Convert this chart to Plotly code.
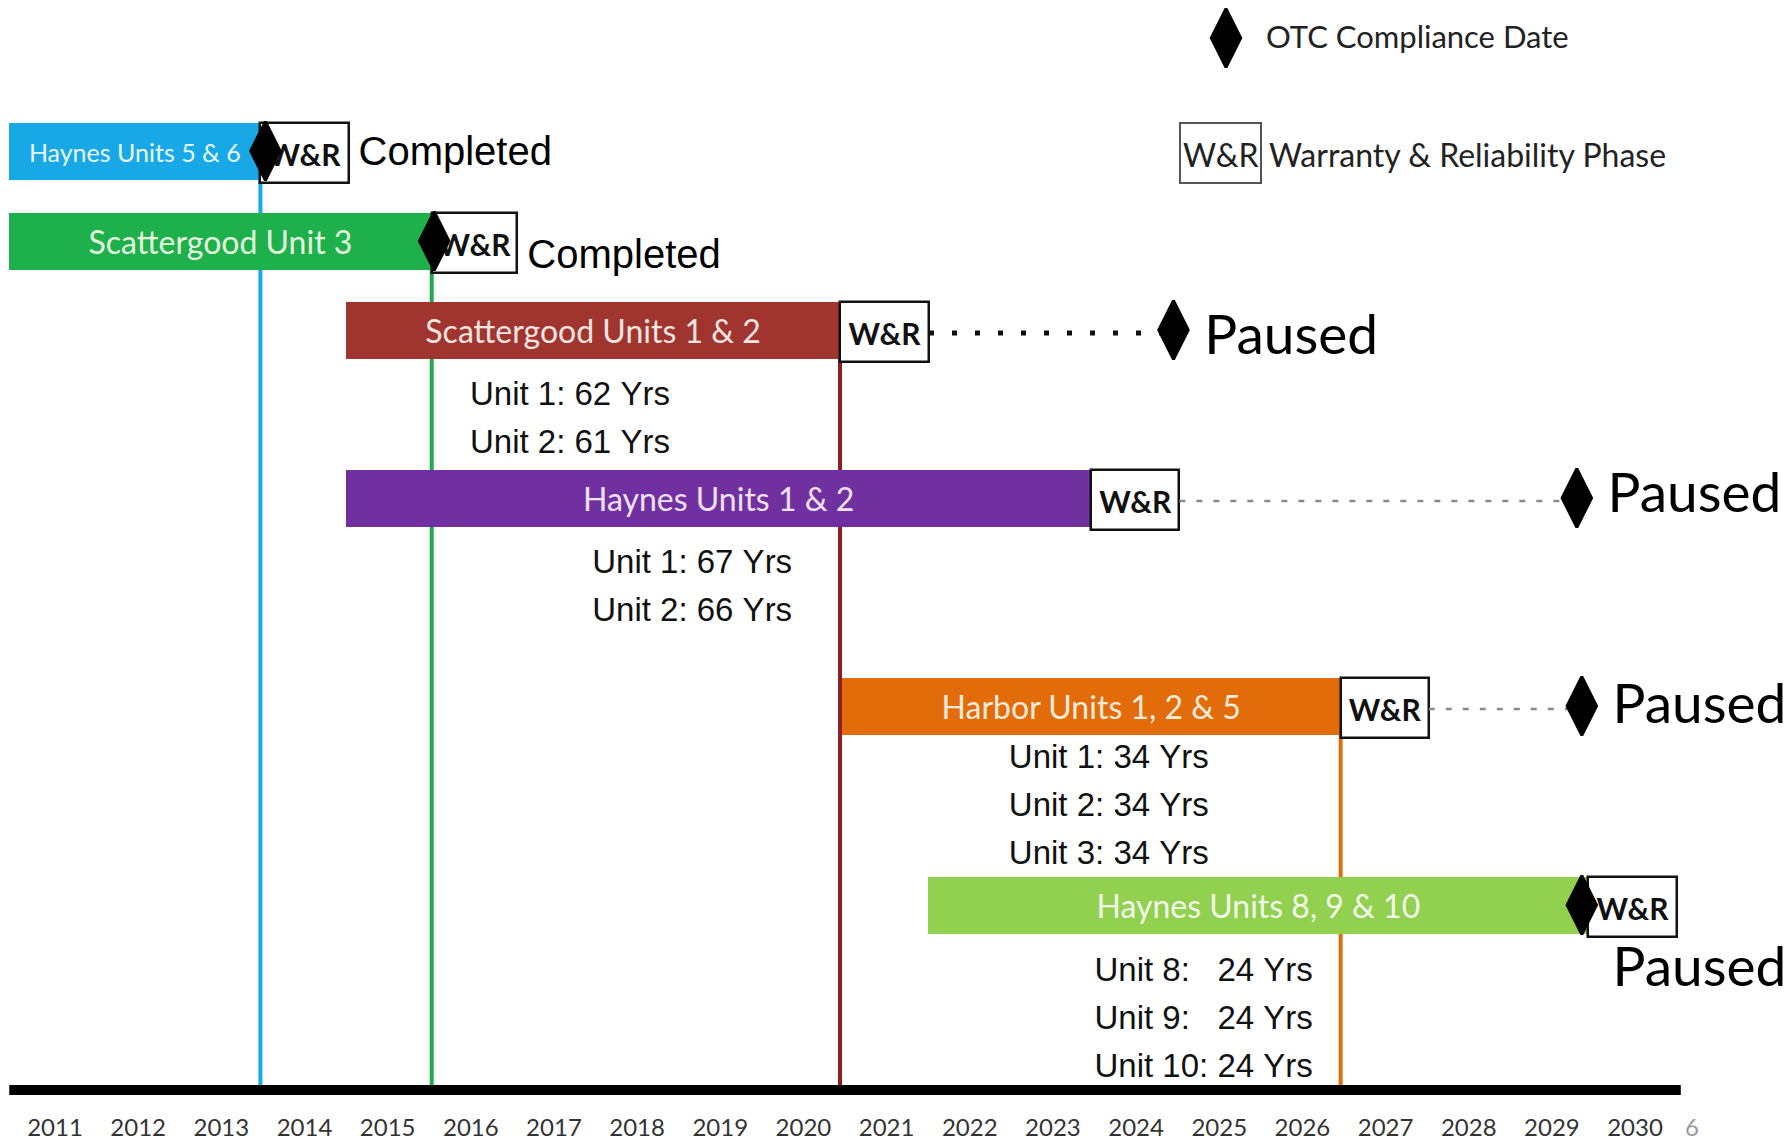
import plotly.graph_objects as go

# ---------------- data ----------------
projects = ["Haynes Units 5 & 6", "Scattergood Unit 3", "Scattergood Units 1 & 2",
            "Haynes Units 1 & 2", "Harbor Units 1, 2 & 5", "Haynes Units 8, 9 & 10"]
start = [2010.95, 2010.95, 2015.0, 2015.0, 2020.96, 2022.0]
finish = [2013.97, 2016.03, 2020.94, 2023.96, 2026.96, 2029.94]
wr_end = [2015.03, 2017.06, 2022.01, 2025.02, 2028.02, 2031.0]
otc_date = [2014.03, 2016.06, 2024.95, 2029.80, 2029.86, 2029.86]
status = ["Completed", "Completed", "Paused", "Paused", "Paused", "Paused"]

unit_names = [
    [],
    [],
    ["Unit 1:", "Unit 2:"],
    ["Unit 1:", "Unit 2:"],
    ["Unit 1:", "Unit 2:", "Unit 3:"],
    ["Unit 8:  ", "Unit 9:  ", "Unit 10:"],
]
unit_ages = [
    [],
    [],
    [62, 61],
    [67, 66],
    [34, 34, 34],
    [24, 24, 24],
]
years = list(range(2011, 2031))
axis_span = [2010.95, 2031.05]

# ---------------- styling / layout ----------------
W, H = 1792, 1144
B_MARGIN = 40
PLOT_H = H - B_MARGIN
PX0, PX_PER_YEAR = 55, 83.16


def px_to_year(px):
    return 2011.5 + (px - PX0) / PX_PER_YEAR


ARIAL = "Liberation Sans, Arial, sans-serif"
CALIBRI = "Lato, Carlito, Calibri, sans-serif"

bar_colors = ["#19A8E6", "#1DB04B", "#A03530", "#7030A0", "#E36C0A", "#92D050"]
label_colors = ["#E8F7FF", "#E3F8DF", "#F8E4E0", "#EFE2F7", "#FCEBDD", "#F2FAEA"]
label_sizes = [25, 32, 32, 32, 32, 32]
line_colors = ["#19A8E6", "#1DAA4B", "#8B1E1E", None, "#E36C0A", None]
row_y = [151, 241, 330, 498, 706, 905]
BAR_H, WR_H = 57, 60
AXIS_Y = 1090
TXT_DY = 5  # vertical nudge for scatter text baselines
connector = [None, None, ("#111111", 5, "5px,18px"), ("#8A8A8A", 2.5, "6px,11px"),
             ("#8A8A8A", 2.5, "6px,11px"), None]
status_dy = [-1, 12, 5, -5, -2, 62]
unit_text_x = [None, None, 2016.49, 2017.96, 2022.97, 2024.0]
unit_first_y = [None, None, 392, 560, 755, 968]
UNIT_DY = 48

fig = go.Figure()

# vertical completion lines (below bars)
shapes = []
for i, c in enumerate(line_colors):
    if c:
        shapes.append(dict(type="line", xref="x", yref="y", layer="below",
                           x0=finish[i], x1=finish[i],
                           y0=row_y[i] + BAR_H / 2, y1=AXIS_Y,
                           line=dict(color=c, width=4)))

# project bars
fig.add_trace(go.Bar(
    orientation="h", y=row_y, base=start,
    x=[f - s for s, f in zip(start, finish)],
    width=BAR_H, marker=dict(color=bar_colors, line=dict(width=0)),
    hoverinfo="skip", showlegend=False))

# W&R boxes
fig.add_trace(go.Bar(
    orientation="h", y=[r + 1.5 for r in row_y], base=finish,
    x=[w - f for f, w in zip(finish, wr_end)],
    width=WR_H, marker=dict(color="white", line=dict(color="#111111", width=2.5)),
    hoverinfo="skip", showlegend=False))

# W&R box texts
fig.add_trace(go.Scatter(
    x=[(f + w) / 2 for f, w in zip(finish, wr_end)], y=[r + 2 + TXT_DY for r in row_y],
    mode="text", text=["<b>W&R</b>"] * len(projects), textposition="middle center",
    textfont=dict(family=CALIBRI, size=30, color="#111111"),
    hoverinfo="skip", showlegend=False, cliponaxis=False))

# bar labels
fig.add_trace(go.Scatter(
    x=[(s + f) / 2 for s, f in zip(start, finish)], y=[r + TXT_DY for r in row_y],
    mode="text", text=projects, textposition="middle center",
    textfont=dict(family=CALIBRI, size=label_sizes, color=label_colors),
    hoverinfo="skip", showlegend=False, cliponaxis=False))

# connectors from W&R to OTC diamond
for i, c in enumerate(connector):
    if c:
        col, wd, dash = c
        fig.add_trace(go.Scatter(
            x=[wr_end[i], otc_date[i]], y=[row_y[i] + 3, row_y[i] + 3], mode="lines",
            line=dict(color=col, width=wd, dash=dash),
            hoverinfo="skip", showlegend=False))

# axis line
fig.add_trace(go.Scatter(
    x=axis_span, y=[AXIS_Y, AXIS_Y], mode="lines",
    line=dict(color="#000000", width=10),
    hoverinfo="skip", showlegend=False))

# OTC diamonds
DIAMOND = dict(symbol="diamond-tall", size=42, color="#000000",
               line=dict(width=3, color="#000000"))
fig.add_trace(go.Scatter(
    x=otc_date, y=row_y, mode="markers", marker=DIAMOND,
    hoverinfo="skip", showlegend=False, cliponaxis=False))

# status texts
sx, sy = [], []
for i, st in enumerate(status):
    if st == "Completed":
        sx.append(wr_end[i] + 0.12)
    else:
        sx.append(otc_date[i] + 0.37)
    sy.append(row_y[i] + status_dy[i] + TXT_DY)
fig.add_trace(go.Scatter(
    x=[x for x, s in zip(sx, status) if s == "Completed"],
    y=[y for y, s in zip(sy, status) if s == "Completed"],
    mode="text", text=[s for s in status if s == "Completed"], textposition="middle right",
    textfont=dict(family=ARIAL, size=40, color="#000000"),
    hoverinfo="skip", showlegend=False, cliponaxis=False))
fig.add_trace(go.Scatter(
    x=[x for x, s in zip(sx, status) if s == "Paused"],
    y=[y for y, s in zip(sy, status) if s == "Paused"],
    mode="text", text=[s for s in status if s == "Paused"], textposition="middle right",
    textfont=dict(family=CALIBRI, size=55, color="#000000"),
    hoverinfo="skip", showlegend=False, cliponaxis=False))

# unit ages
ux, uy, ut = [], [], []
for i in range(len(projects)):
    for k, (nm, age) in enumerate(zip(unit_names[i], unit_ages[i])):
        ux.append(unit_text_x[i])
        uy.append(unit_first_y[i] + k * UNIT_DY + TXT_DY)
        ut.append(f"{nm} {age} Yrs".replace(" ", "\u00a0"))
fig.add_trace(go.Scatter(
    x=ux, y=uy, mode="text", text=ut, textposition="middle right",
    textfont=dict(family=ARIAL, size=33, color="#111111"),
    hoverinfo="skip", showlegend=False, cliponaxis=False))

# legend (drawn)
fig.add_trace(go.Scatter(
    x=[px_to_year(1226)], y=[38], mode="markers", marker=DIAMOND,
    hoverinfo="skip", showlegend=False, cliponaxis=False))
shapes.append(dict(type="rect", xref="x", yref="y", layer="above",
                   x0=px_to_year(1180), x1=px_to_year(1261), y0=123, y1=183,
                   line=dict(color="#555555", width=2), fillcolor="rgba(0,0,0,0)"))

annotations = [
    dict(x=px_to_year(1264), y=36, xref="x", yref="y", text="OTC Compliance Date",
         showarrow=False, xanchor="left", yanchor="middle",
         font=dict(family=CALIBRI, size=31, color="#222222")),
    dict(x=px_to_year(1220.5), y=154, xref="x", yref="y", text="W&R",
         showarrow=False, xanchor="center", yanchor="middle",
         font=dict(family=CALIBRI, size=32, color="#222222")),
    dict(x=px_to_year(1267), y=154, xref="x", yref="y", text="Warranty & Reliability Phase",
         showarrow=False, xanchor="left", yanchor="middle",
         font=dict(family=CALIBRI, size=32, color="#222222")),
    dict(x=1692 / W, y=-(1110 - PLOT_H) / PLOT_H, xref="paper", yref="paper", text="6",
         showarrow=False, xanchor="center", yanchor="top",
         font=dict(family=CALIBRI, size=24, color="#9A9A9A")),
]

fig.update_layout(
    width=W, height=H,
    margin=dict(l=0, r=0, t=0, b=B_MARGIN),
    paper_bgcolor="white", plot_bgcolor="white",
    barmode="overlay", bargap=0,
    shapes=shapes, annotations=annotations,
    xaxis=dict(range=[px_to_year(0), px_to_year(W)], showgrid=False, zeroline=False,
               showline=False, ticks="",
               tickvals=[y + 0.5 for y in years], ticktext=[str(y) for y in years],
               tickfont=dict(family=CALIBRI, size=24, color="#333333"),
               ticklabelstandoff=7, fixedrange=True),
    yaxis=dict(range=[PLOT_H, 0], showgrid=False, zeroline=False, showline=False,
               showticklabels=False, ticks="", fixedrange=True),
)

fig.write_html("out.html", config={"displayModeBar": False},
               post_script="document.body.style.margin='0px';")
